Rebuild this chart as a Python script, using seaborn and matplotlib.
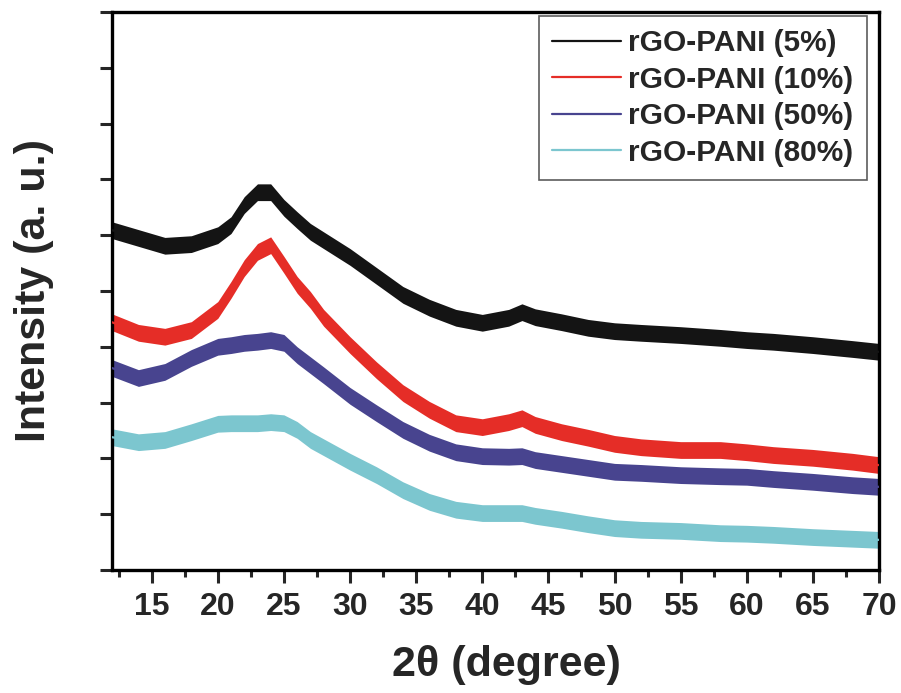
import matplotlib
matplotlib.use("Agg")
import matplotlib.pyplot as plt
import seaborn as sns
import pandas as pd
import numpy as np
from matplotlib.ticker import MultipleLocator

# 2-theta sample positions (degree)
two_theta = [12, 14, 16, 18, 20, 21, 22, 23, 24, 25, 26, 27, 28, 30, 32, 34, 36, 38,
             40, 42, 43, 44, 46, 48, 50, 52, 55, 58, 60, 62, 65, 68, 70]

# Intensity (a. u.) (centre of each noisy trace)
i_5 = [6.09, 5.95, 5.81, 5.84, 6.00, 6.18, 6.54, 6.77, 6.77, 6.49, 6.27, 6.06, 5.91,
       5.61, 5.27, 4.93, 4.70, 4.52, 4.43, 4.52, 4.62, 4.53, 4.44, 4.34, 4.28, 4.25,
       4.21, 4.16, 4.12, 4.09, 4.03, 3.96, 3.91]
i_10 = [4.44, 4.25, 4.18, 4.30, 4.66, 5.02, 5.41, 5.70, 5.82, 5.47, 5.11, 4.84, 4.52,
        4.03, 3.58, 3.17, 2.87, 2.63, 2.56, 2.65, 2.72, 2.60, 2.47, 2.37, 2.26, 2.20,
        2.15, 2.15, 2.11, 2.06, 2.01, 1.94, 1.88]
i_50 = [3.62, 3.44, 3.55, 3.80, 4.00, 4.03, 4.07, 4.09, 4.12, 4.07, 3.85, 3.67, 3.49,
        3.12, 2.81, 2.51, 2.28, 2.11, 2.04, 2.03, 2.04, 1.97, 1.90, 1.83, 1.76, 1.74,
        1.70, 1.68, 1.67, 1.63, 1.58, 1.52, 1.49]
i_80 = [2.38, 2.29, 2.33, 2.47, 2.62, 2.63, 2.63, 2.63, 2.65, 2.63, 2.51, 2.33, 2.20,
        1.94, 1.70, 1.43, 1.22, 1.08, 1.02, 1.02, 1.02, 0.97, 0.90, 0.82, 0.75, 0.72,
        0.70, 0.66, 0.65, 0.63, 0.59, 0.56, 0.54]

labels = ["rGO-PANI (5%)", "rGO-PANI (10%)", "rGO-PANI (50%)", "rGO-PANI (80%)"]
colors = ["#141414", "#e52d27", "#48448f", "#7cc6cf"]
noise_half_width = 0.15  # visual half-thickness of the noisy band (a. u.)

x_ticks = [15, 20, 25, 30, 35, 40, 45, 50, 55, 60, 65, 70]

rows = []
for lab, ys in zip(labels, [i_5, i_10, i_50, i_80]):
    for x, y in zip(two_theta, ys):
        rows.append({"2theta": x, "I": y, "sample": lab})
df = pd.DataFrame(rows)

sns.set_style("ticks")
plt.rcParams["font.family"] = ["Liberation Sans", "DejaVu Sans"]
plt.rcParams["font.weight"] = "bold"

fig = plt.figure(figsize=(9.01, 6.93), dpi=100)
ax = fig.add_axes([0.1243, 0.1775, 0.8513, 0.8052])

for lab, col in zip(labels, colors):
    sub = df[df["sample"] == lab]
    ax.fill_between(sub["2theta"], sub["I"] - noise_half_width, sub["I"] + noise_half_width,
                    color=col, linewidth=0, zorder=2)

sns.lineplot(data=df, x="2theta", y="I", hue="sample", hue_order=labels,
             palette=colors, linewidth=1.6, ax=ax, zorder=3, legend=True)

ax.set_xlim(12, 70)
ax.set_ylim(0, 10)
ax.set_xticks(x_ticks)
ax.xaxis.set_minor_locator(MultipleLocator(2.5))
ax.yaxis.set_major_locator(MultipleLocator(1))
ax.set_yticklabels([])
ax.tick_params(axis="both", which="major", direction="out", length=9, width=2.2,
               labelsize=23, pad=7)
ax.tick_params(axis="x", which="minor", direction="out", length=5, width=2.2)
ax.tick_params(axis="y", which="minor", left=False)
for lbl in ax.get_xticklabels():
    lbl.set_fontweight("bold")
for s in ax.spines.values():
    s.set_visible(True)
    s.set_linewidth(2.4)
    s.set_color("black")

ax.set_xlabel("2θ (degree)", fontsize=31, fontweight="bold")
ax.xaxis.set_label_coords(0.514, -0.135)
ax.set_ylabel("Intensity (a. u.)", fontsize=31, fontweight="bold")
ax.yaxis.set_label_coords(-0.075, 0.5)

leg = ax.legend(loc="upper right", bbox_to_anchor=(0.9844, 0.9928), fontsize=21.5,
                frameon=True, fancybox=False, handlelength=2.3, handletextpad=0.25,
                borderpad=0.45, labelspacing=0.28, borderaxespad=0.0)
leg.get_frame().set_edgecolor("#333333")
leg.get_frame().set_linewidth(1.2)
for t in leg.get_texts():
    t.set_fontweight("bold")
for h in leg.get_lines():
    h.set_linewidth(1.6)

fig.savefig("out.png", dpi=100)
